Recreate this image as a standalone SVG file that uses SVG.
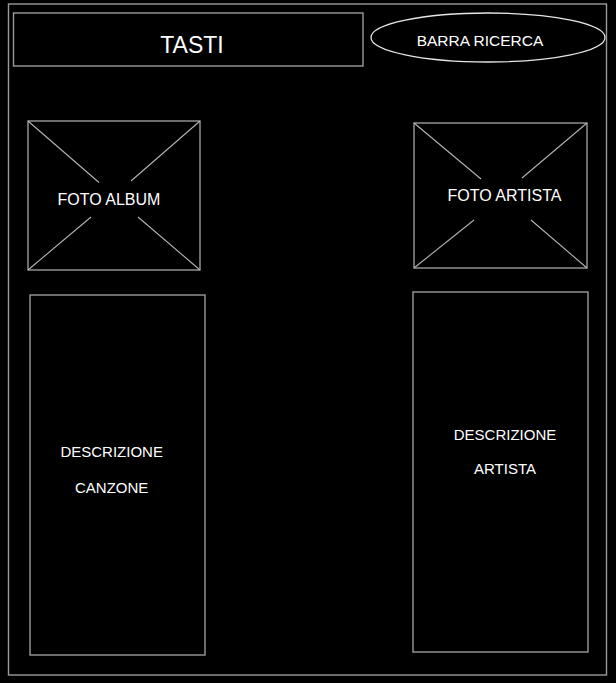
<svg xmlns="http://www.w3.org/2000/svg" width="616" height="683" viewBox="0 0 616 683">
  <style>
    .box { fill: none; stroke: #9a9a9a; stroke-width: 1.4; }
    .diag { fill: none; stroke: #b4b4b4; stroke-width: 1.1; }
    .oval { fill: none; stroke: #e6e6e6; stroke-width: 1.3; }
    .lbl { fill: #ffffff; font-family: "Liberation Sans", Arial, sans-serif; text-anchor: middle; }
  </style>
  <rect x="0" y="0" width="616" height="683" fill="#000000"/>
  <g id="frame">
    <rect class="box" x="8.5" y="4" width="598" height="671"/>
  </g>
  <g id="tasti">
    <rect class="box" x="13.5" y="13" width="349.5" height="53"/>
    <text class="lbl" x="192" y="53" font-size="23">TASTI</text>
  </g>
  <g id="barra-ricerca">
    <ellipse class="oval" cx="488" cy="37.5" rx="117" ry="24.5"/>
    <text class="lbl" x="480" y="46" font-size="15.5">BARRA RICERCA</text>
  </g>
  <g id="foto-album">
    <rect class="box" x="28" y="121" width="172" height="149"/>
    <line class="diag" x1="28" y1="121" x2="99" y2="182.5"/>
    <line class="diag" x1="200" y1="121" x2="131" y2="181"/>
    <line class="diag" x1="28" y1="270" x2="91" y2="217"/>
    <line class="diag" x1="200" y1="270" x2="138" y2="217"/>
    <text class="lbl" x="109" y="205" font-size="16">FOTO ALBUM</text>
  </g>
  <g id="foto-artista">
    <rect class="box" x="414" y="123" width="173" height="145"/>
    <line class="diag" x1="414" y1="123" x2="481" y2="179"/>
    <line class="diag" x1="587" y1="123" x2="522" y2="178"/>
    <line class="diag" x1="414" y1="268" x2="474" y2="220"/>
    <line class="diag" x1="587" y1="268" x2="531" y2="220"/>
    <text class="lbl" x="504.5" y="200.5" font-size="16">FOTO ARTISTA</text>
  </g>
  <g id="descrizione-canzone">
    <rect class="box" x="30" y="295" width="175" height="360"/>
    <text class="lbl" x="111.7" y="457" font-size="15">DESCRIZIONE</text>
    <text class="lbl" x="111.7" y="493" font-size="15">CANZONE</text>
  </g>
  <g id="descrizione-artista">
    <rect class="box" x="413" y="292" width="175" height="360"/>
    <text class="lbl" x="505" y="440" font-size="15">DESCRIZIONE</text>
    <text class="lbl" x="505" y="474" font-size="15">ARTISTA</text>
  </g>
  <g id="connectors"/>
</svg>
